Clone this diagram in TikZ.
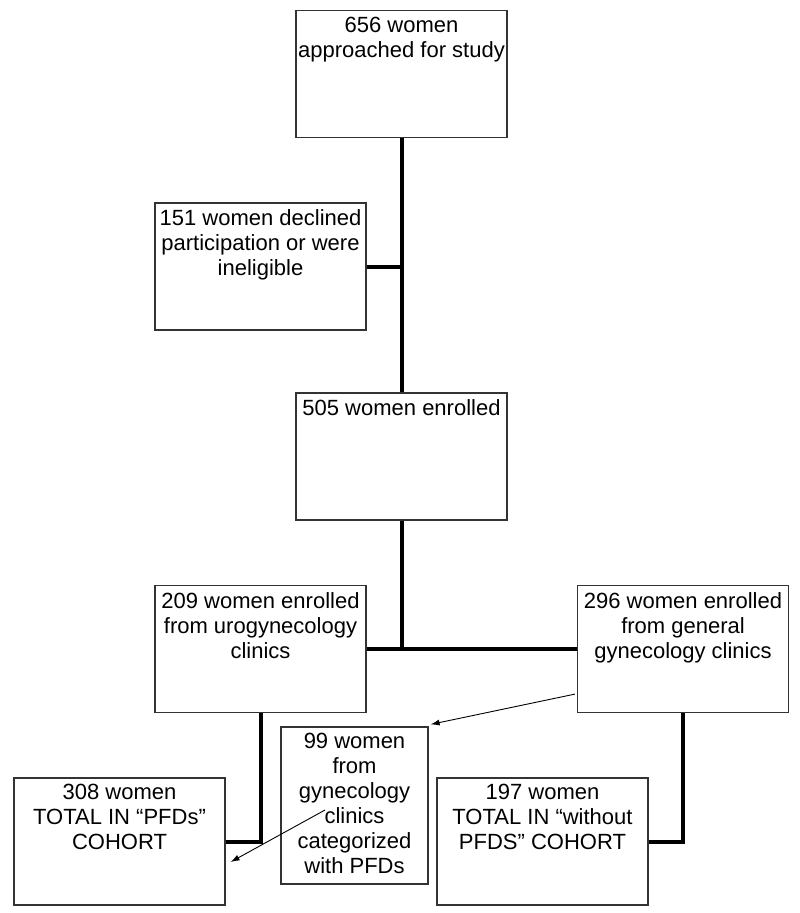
\documentclass[tikz,border=0pt]{standalone}
\usepackage{fontspec}
\setmainfont{Liberation Sans}
\usetikzlibrary{arrows.meta,calc}

\begin{document}
\begin{tikzpicture}
		[x=1pt,y=-1pt,
		box/.style={draw=black!80,line width=1.2pt,minimum width=211pt,minimum height=127pt,inner sep=0pt},
		txt/.style={anchor=north,inner sep=0pt,align=center,yshift=-7pt,font=\fontsize{22}{25}\selectfont},
		link/.style={line width=4pt},
		pointer/.style={line width=0.9pt,-{Latex[length=9pt,width=6pt]}}]
		\useasboundingbox (0,0) rectangle (800,913);
		% boxes
		\node[box] (appr) at (401.5,74) {};
		\node[box] (decl) at (260.5,266.5) {};
		\node[box] (enrl) at (401.5,456.5) {};
		\node[box] (uro) at (260.5,649) {};
		\node[box] (gen) at (683,649) {};
		\node[box,minimum width=147pt,minimum height=157pt] (cat) at (354.5,805.5) {};
		\node[box] (pfd) at (119.5,841.5) {};
		\node[box] (nopfd) at (542.5,841.5) {};
		% texts
		\node[txt] (appr-t) at (appr.north) {656 women\\approached for study};
		\node[txt] (decl-t) at (decl.north) {151 women declined\\participation or were\\ineligible};
		\node[txt] (enrl-t) at (enrl.north) {505 women enrolled};
		\node[txt] (uro-t) at (uro.north) {209 women enrolled\\from urogynecology\\clinics};
		\node[txt] (gen-t) at (gen.north) {296 women enrolled\\from general\\gynecology clinics};
		\node[txt] (cat-t) at (cat.north) {99 women\\from\\gynecology\\clinics\\categorized\\with PFDs};
		\node[txt] (pfd-t) at (pfd.north) {308 women\\TOTAL IN “PFDs”\\COHORT};
		\node[txt] (nopfd-t) at (nopfd.north) {197 women\\TOTAL IN “without\\PFDS” COHORT};
		% connectors
		\draw[link] (appr.south) -- (enrl.north);
		\draw[link] (decl.east) -- (decl -| appr);
		\draw[link] (enrl.south) -- (enrl |- uro);
		\draw[link] (uro.east) -- (gen.west);
		\draw[link] (uro.south) |- (pfd.east);
		\draw[link] (gen.south) |- (nopfd.east);
		% arrows
		\coordinate (genout) at ($(gen.south west)+(-2,-19)$);
		\coordinate (catout) at ($(cat.center)+(-29.5,4.5)$);
		\draw[pointer] (genout) -- ($(cat.north east)+(2,-2)$);
		\draw[pointer] (catout) -- ($(pfd.east)+(5,20.5)$);
	\end{tikzpicture}
\end{document}
